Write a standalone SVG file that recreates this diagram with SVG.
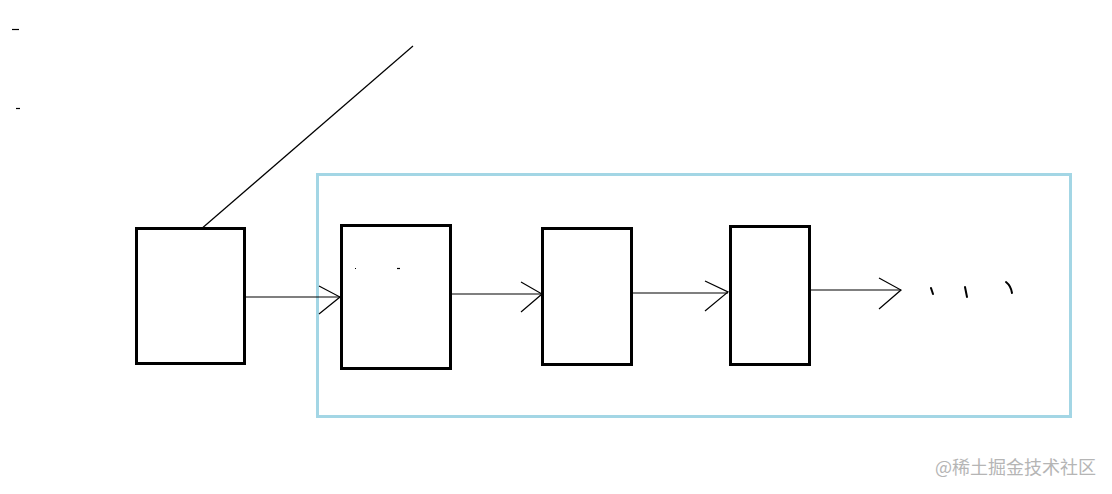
<svg xmlns="http://www.w3.org/2000/svg" width="1112" height="494" viewBox="0 0 1112 494">
<style>
.box{fill:#fff;stroke:#000;stroke-width:3}
.ln{stroke:#000;stroke-width:1.2;fill:none}
.tick{stroke:#000;stroke-width:2;fill:none;stroke-linecap:round}
.wm{font-family:"Noto Sans CJK SC","Liberation Sans",sans-serif;font-size:18px;fill:#b5b5b5}
</style>
<rect width="1112" height="494" fill="#fff"/>
<g id="marks">
<line x1="12" y1="29.5" x2="19" y2="29.5" class="ln"/>
<line x1="16" y1="108.5" x2="20" y2="108.5" class="ln"/>
<path class="tick" d="M931 288 L933 294"/>
<path class="tick" d="M965 287 L967 297"/>
<path class="tick" d="M1006 282 Q1011 286 1012 293"/>
</g>
<g id="container">
<rect x="317.5" y="174.5" width="753" height="242" fill="none" stroke="#a3d6e5" stroke-width="3"/>
</g>
<g id="connectors">
<line x1="200" y1="230" x2="413" y2="46" class="ln"/>
<line x1="245" y1="297" x2="340" y2="297" class="ln"/>
<polyline points="319,286 340,297 319,314" class="ln"/>
<line x1="451" y1="294" x2="542" y2="294" class="ln"/>
<polyline points="521,282 542,294 521,312" class="ln"/>
<line x1="632" y1="293" x2="728" y2="293" class="ln"/>
<polyline points="705,281 728,292 705,311" class="ln"/>
<line x1="810" y1="290" x2="901" y2="290" class="ln"/>
<polyline points="879,278 901,290 879,309" class="ln"/>
</g>
<g id="node1"><rect class="box" x="136.5" y="228.5" width="108" height="135"/></g>
<g id="node2">
<rect class="box" x="341.5" y="225.5" width="109" height="143"/>
<line x1="355" y1="268.5" x2="356" y2="268.5" class="ln"/>
<line x1="397" y1="268.5" x2="400" y2="268.5" class="ln"/>
</g>
<g id="node3"><rect class="box" x="542.5" y="228.5" width="89" height="136"/></g>
<g id="node4"><rect class="box" x="730.5" y="226.5" width="79" height="138"/></g>
<text class="wm" x="935" y="474">@稀土掘金技术社区</text>
</svg>
